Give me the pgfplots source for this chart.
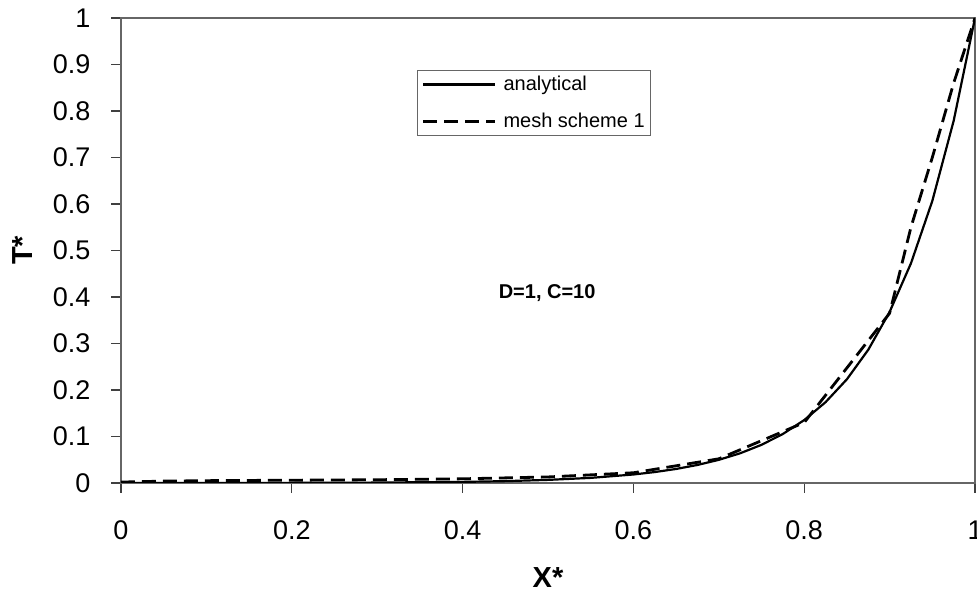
\documentclass[border=0pt]{standalone}
\usepackage{fontspec}
\setmainfont{Liberation Sans}
\usepackage{pgfplots}
\pgfplotsset{compat=1.18}
\begin{document}
\begin{tikzpicture}
\begin{axis}[
  name=main,
  scale only axis,
  width=854pt, height=465pt,
  xmin=0, xmax=1, ymin=0, ymax=1,
  xtick={0,0.2,0.4,0.6,0.8,1},
  ytick={0,0.1,0.2,0.3,0.4,0.5,0.6,0.7,0.8,0.9,1},
  xticklabels={0,0.2,0.4,0.6,0.8,1},
  yticklabels={0,0.1,0.2,0.3,0.4,0.5,0.6,0.7,0.8,0.9,1},
  xtick pos=bottom, ytick pos=left,
  xtick align=outside, ytick align=outside,
  major tick length=10pt,
  major tick style={line width=1.2pt, draw=black!75},
  axis line style={line width=1.5pt, draw=black!60},
  /pgf/number format/assume math mode=true,
  ticklabel style={font=\fontsize{27}{30}\selectfont},
  yticklabel style={anchor=east, xshift=-17pt},
  xticklabel style={anchor=north, yshift=-24pt},
  xlabel={\textbf{X*}},
  ylabel={\textbf{T*}},
  every axis x label/.style={at={(axis description cs:0.5,0)}, anchor=center, yshift=-95pt,
     font=\fontsize{29}{32}\selectfont},
  every axis y label/.style={at={(axis description cs:-0.1148,0.5)}, anchor=center, rotate=90,
     font=\fontsize{29}{32}\selectfont},
  legend style={at={(0.347,0.888)}, anchor=north west, draw=black!60, line width=0.8pt,
    font=\fontsize{20}{23}\selectfont, row sep=17pt, inner xsep=4pt, inner ysep=4pt},
  legend cell align=left,
  legend image code/.code={\draw[#1] (0pt,0pt) -- (72pt,0pt); \path (77pt,0pt);},
]
\addplot[black, line width=2.2pt] coordinates {
(0,0) (0.1,0.0001) (0.2,0.0003) (0.3,0.0009) (0.4,0.0024) (0.45,0.004) (0.5,0.0067)
(0.55,0.011) (0.6,0.0183) (0.625,0.0235) (0.65,0.0302) (0.675,0.0388) (0.7,0.0498)
(0.725,0.0639) (0.75,0.0821) (0.775,0.1054) (0.8,0.1353) (0.825,0.1738) (0.85,0.2231)
(0.875,0.2865) (0.9,0.3679) (0.925,0.4724) (0.95,0.6065) (0.975,0.7788) (1,1)
};
\addlegendentry{analytical}
\addplot[black, line width=2.8pt, dash pattern=on 14pt off 7pt] coordinates {
(0,0.002) (0.05,0.004) (0.1,0.005) (0.2,0.006) (0.3,0.007) (0.4,0.009) (0.5,0.013)
(0.6,0.022) (0.7,0.052) (0.8,0.13) (0.9,0.365) (0.925,0.55) (0.95,0.70) (0.975,0.86) (1,1)
};
\addlegendentry{mesh scheme 1}
\node[font=\fontsize{20}{22}\selectfont\bfseries] at (axis cs:0.499,0.409) {D=1, C=10};
\end{axis}
\pgfresetboundingbox
\useasboundingbox ([shift={(-121pt,-113pt)}]main.south west) rectangle ([shift={(2pt,18pt)}]main.north east);
\end{tikzpicture}
\end{document}
